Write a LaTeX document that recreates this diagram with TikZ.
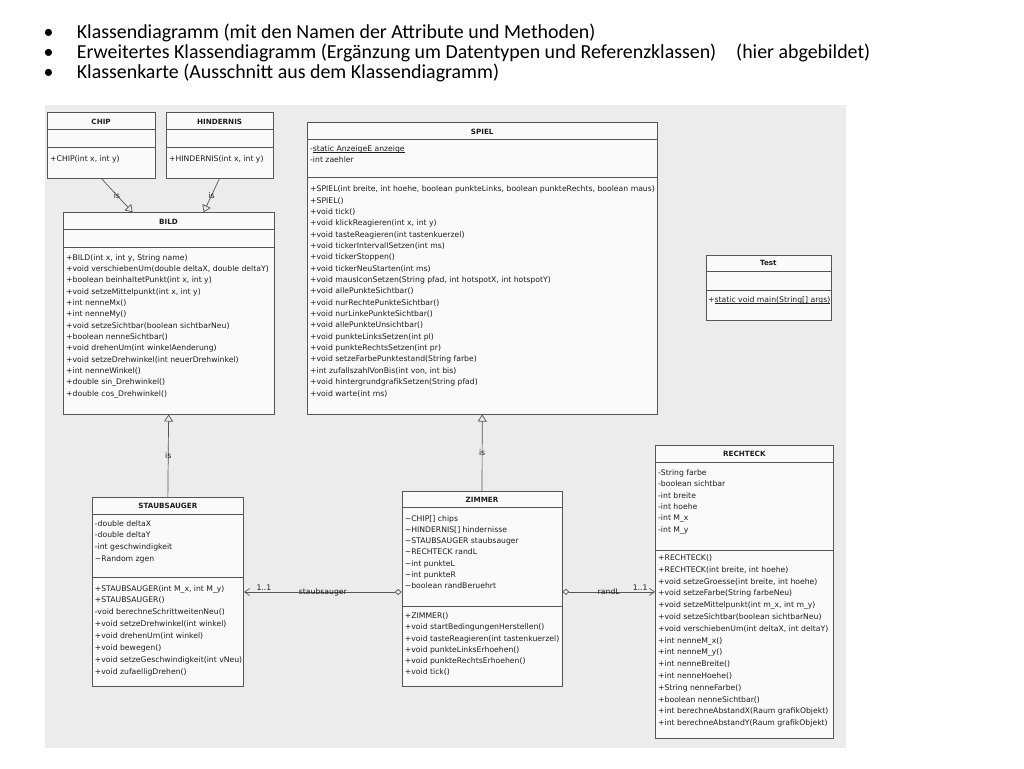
\documentclass[tikz,border=0pt]{standalone}
\usepackage{fontspec}
\setmainfont{DejaVu Sans}
\newfontfamily\slidefont{Carlito}
\usetikzlibrary{arrows.meta, positioning}

\definecolor{panelgray}{HTML}{ECECEC}
\definecolor{boxfill}{HTML}{FAFAFA}
\definecolor{boxline}{HTML}{555555}
\definecolor{umltext}{HTML}{1E1E1E}
\newcommand{\umlsize}[1][11.35]{\fontsize{7.7}{#1}\selectfont}
\newcommand{\memberlist}[1]{\begin{tabular}[t]{@{}l@{}}#1\end{tabular}}
\newcommand{\classscope}[1]{\underline{\smash{#1}}}

\begin{document}
\begin{tikzpicture}[
    x=1pt, y=-1pt,
    classbox/.style={rectangle, draw=boxline, line width=0.7pt, fill=boxfill, anchor=north west, inner sep=0pt},
    classname/.style={font=\fontsize{7.2}{9}\selectfont\bfseries, text=umltext, inner sep=0pt},
    members/.style={font=\umlsize, text=umltext, anchor=base west, inner sep=0pt},
    divider/.style={draw=boxline, line width=0.7pt},
    inherit/.style={draw=boxline, line width=0.7pt, -{Triangle[open, length=7pt, width=9pt]}},
    assoc/.style={draw=boxline, line width=0.7pt, {Diamond[open, length=7pt, width=6pt]}-{Straight Barb[length=5pt, width=7pt]}},
    edgelabel/.style={font=\umlsize, text=umltext, inner sep=1pt},
    slideline/.style={font=\slidefont\fontsize{19.9}{20}\selectfont, anchor=base west, inner sep=0pt}
]
    \useasboundingbox (0,0) rectangle (1024,768);
    \fill[white] (0,0) rectangle (1024,768);

    % slide text
    \node[slideline] (dot1) at (43.5,38.3) {\textbullet};
    \node[slideline] (dot2) at (43.5,58.3) {\textbullet};
    \node[slideline] (dot3) at (43.5,78.3) {\textbullet};
    \node[slideline] (line1) at (76.7,38.3) {Klassendiagramm (mit den Namen der Attribute und Methoden)};
    \node[slideline] (line2) at (76.7,58.3) {Erweitertes Klassendiagramm (Ergänzung um Datentypen und Referenzklassen)\hspace{20pt}(hier abgebildet)};
    \node[slideline] (line3) at (76.7,78.3) {Klassenkarte (Ausschnitt aus dem Klassendiagramm)};

    \fill[panelgray] (45,105) rectangle (846,748);

    % class boxes
    \node[classbox, minimum width=107.5, minimum height=65.5] (chip) at (47,112) {};
    \node[classbox, minimum width=106.5, minimum height=65.5] (hindernis) at (166,112) {};
    \node[classbox, minimum width=210.5, minimum height=201.5] (bild) at (63,212.3) {};
    \node[classbox, minimum width=349.7, minimum height=291.5] (spiel) at (307,122.3) {};
    \node[classbox, minimum width=125, minimum height=65] (test) at (705.5,255) {};
    \node[classbox, minimum width=178, minimum height=293] (rechteck) at (655,445) {};
    \node[classbox, minimum width=151.6, minimum height=188.7] (staubsauger) at (91.7,497.3) {};
    \node[classbox, minimum width=160, minimum height=195] (zimmer) at (401.7,491) {};

    % compartments
    \foreach \cls/\head/\attr in {chip/17/35.5, hindernis/17/35.5, bild/17.5/35.5, spiel/16.7/55.4,
        test/16.7/35.7, rechteck/17.7/105, staubsauger/16.7/80, zimmer/16.7/115.7} {
        \draw[divider] ([yshift=-\head pt]\cls.north west) -- ([yshift=-\head pt]\cls.north east);
        \draw[divider] ([yshift=-\attr pt]\cls.north west) -- ([yshift=-\attr pt]\cls.north east);
    }

    % class names
    \node[classname] (chip-n) at ([yshift=-9.4pt]chip.north) {CHIP};
    \node[classname] (hindernis-n) at ([yshift=-9.4pt]hindernis.north) {HINDERNIS};
    \node[classname] (bild-n) at ([yshift=-9.4pt]bild.north) {BILD};
    \node[classname] (spiel-n) at ([yshift=-9.4pt]spiel.north) {SPIEL};
    \node[classname] (test-n) at ([yshift=-8.3pt]test.north) {Test};
    \node[classname] (rechteck-n) at ([yshift=-9pt]rechteck.north) {RECHTECK};
    \node[classname] (staubsauger-n) at ([yshift=-8.4pt]staubsauger.north) {STAUBSAUGER};
    \node[classname] (zimmer-n) at ([yshift=-9pt]zimmer.north) {ZIMMER};

    % attributes and methods
    \node[members] (chip-m) at (50,161) {+CHIP(int x, int y)};
    \node[members] (hindernis-m) at (169,161) {+HINDERNIS(int x, int y)};
    \node[members] (bild-m) at (66,260) {\memberlist{+BILD(int x, int y, String name)\\
        +void verschiebenUm(double deltaX, double deltaY)\\
        +boolean beinhaltetPunkt(int x, int y)\\
        +void setzeMittelpunkt(int x, int y)\\
        +int nenneMx()\\
        +int nenneMy()\\
        +void setzeSichtbar(boolean sichtbarNeu)\\
        +boolean nenneSichtbar()\\
        +void drehenUm(int winkelAenderung)\\
        +void setzeDrehwinkel(int neuerDrehwinkel)\\
        +int nenneWinkel()\\
        +double sin\_Drehwinkel()\\
        +double cos\_Drehwinkel()}};
    \node[members] (spiel-a) at (310,151) {\memberlist{-\classscope{static AnzeigeE anzeige}\\
        -int zaehler}};
    \node[members] (spiel-m) at (310,191.7) {\memberlist{+SPIEL(int breite, int hoehe, boolean punkteLinks, boolean punkteRechts, boolean maus)\\
        +SPIEL()\\
        +void tick()\\
        +void klickReagieren(int x, int y)\\
        +void tasteReagieren(int tastenkuerzel)\\
        +void tickerIntervallSetzen(int ms)\\
        +void tickerStoppen()\\
        +void tickerNeuStarten(int ms)\\
        +void mausIconSetzen(String pfad, int hotspotX, int hotspotY)\\
        +void allePunkteSichtbar()\\
        +void nurRechtePunkteSichtbar()\\
        +void nurLinkePunkteSichtbar()\\
        +void allePunkteUnsichtbar()\\
        +void punkteLinksSetzen(int pl)\\
        +void punkteRechtsSetzen(int pr)\\
        +void setzeFarbePunktestand(String farbe)\\
        +int zufallszahlVonBis(int von, int bis)\\
        +void hintergrundgrafikSetzen(String pfad)\\
        +void warte(int ms)}};
    \node[members] (test-m) at (708,302) {+\classscope{static void main(String[] args)}};
    \node[members] (rechteck-a) at (658,475.4) {\memberlist{-String farbe\\
        -boolean sichtbar\\
        -int breite\\
        -int hoehe\\
        -int M\_x\\
        -int M\_y}};
    \node[members, font={\umlsize[11.8]}] (rechteck-m) at (658,560.4) {\memberlist{+RECHTECK()\\
        +RECHTECK(int breite, int hoehe)\\
        +void setzeGroesse(int breite, int hoehe)\\
        +void setzeFarbe(String farbeNeu)\\
        +void setzeMittelpunkt(int m\_x, int m\_y)\\
        +void setzeSichtbar(boolean sichtbarNeu)\\
        +void verschiebenUm(int deltaX, int deltaY)\\
        +int nenneM\_x()\\
        +int nenneM\_y()\\
        +int nenneBreite()\\
        +int nenneHoehe()\\
        +String nenneFarbe()\\
        +boolean nenneSichtbar()\\
        +int berechneAbstandX(Raum grafikObjekt)\\
        +int berechneAbstandY(Raum grafikObjekt)}};
    \node[members, font={\umlsize[11.7]}] (staubsauger-a) at (94.7,526) {\memberlist{-double deltaX\\
        -double deltaY\\
        -int geschwindigkeit\\
        \textasciitilde Random zgen}};
    \node[members, font={\umlsize[11.9]}] (staubsauger-m) at (94.7,591) {\memberlist{+STAUBSAUGER(int M\_x, int M\_y)\\
        +STAUBSAUGER()\\
        -void berechneSchrittweitenNeu()\\
        +void setzeDrehwinkel(int winkel)\\
        +void drehenUm(int winkel)\\
        +void bewegen()\\
        +void setzeGeschwindigkeit(int vNeu)\\
        +void zufaelligDrehen()}};
    \node[members, font={\umlsize[11.25]}] (zimmer-a) at (404.7,521) {\memberlist{\textasciitilde CHIP[] chips\\
        \textasciitilde HINDERNIS[] hindernisse\\
        \textasciitilde STAUBSAUGER staubsauger\\
        \textasciitilde RECHTECK randL\\
        \textasciitilde int punkteL\\
        \textasciitilde int punkteR\\
        \textasciitilde boolean randBeruehrt}};
    \node[members, font={\umlsize[11.25]}] (zimmer-m) at (404.7,618.7) {\memberlist{+ZIMMER()\\
        +void startBedingungenHerstellen()\\
        +void tasteReagieren(int tastenkuerzel)\\
        +void punkteLinksErhoehen()\\
        +void punkteRechtsErhoehen()\\
        +void tick()}};

    % inheritance
    \draw[inherit] (chip.south) -- node[edgelabel] {is} ([xshift=-36pt]bild.north);
    \draw[inherit] (hindernis.south) -- node[edgelabel] {is} ([xshift=35pt]bild.north);
    \draw[inherit] (staubsauger.north) -- node[edgelabel] {is} (bild.south);
    \draw[inherit] (zimmer.north) -- node[edgelabel] {is} (spiel.south);

    % associations
    \draw[assoc] (staubsauger.east -| zimmer.west) -- node[edgelabel] {staubsauger}
        node[edgelabel, pos=0.874, above] {1..1} (staubsauger.east);
    \draw[assoc] (rechteck.west -| zimmer.east) -- node[edgelabel] {randL}
        node[edgelabel, pos=0.84, above] {1..1} (rechteck.west);
\end{tikzpicture}
\end{document}
